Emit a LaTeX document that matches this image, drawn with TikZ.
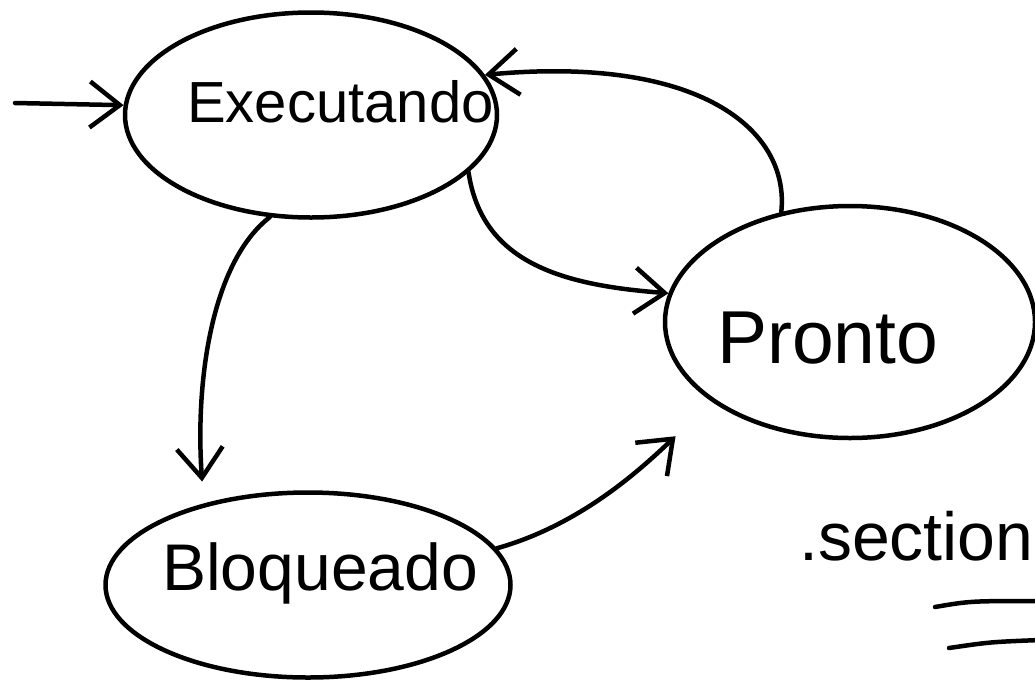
\documentclass[tikz,border=0pt]{standalone}
\usepackage{fontspec}
\setmainfont{Liberation Sans}
\usetikzlibrary{shapes.geometric,arrows.meta}
\begin{document}
\begin{tikzpicture}[x=1pt,y=-1pt,line width=4.5pt,line cap=round,line join=round,
  state/.style={draw,ellipse,inner sep=0pt},
  arr/.style={-{Straight Barb[length=30pt,width=46pt]}},
  lbl/.style={anchor=base west,inner sep=0pt}]
\useasboundingbox (0,0) rectangle (1035,681);
% states
\node[state,minimum width=372pt,minimum height=205pt] (exec) at (311,115) {};
\node[state,minimum width=370pt,minimum height=232pt] (pronto) at (850,322) {};
\node[state,minimum width=405pt,minimum height=185pt] (bloq) at (308,585) {};
% labels
\node[lbl,font=\fontsize{58}{62}\selectfont] (execl) at (185,122) {Executando};
\node[lbl,font=\fontsize{75}{80}\selectfont] (prontol) at (715,363) {Pronto};
\node[lbl,font=\fontsize{66}{70}\selectfont] (bloql) at (160,590) {Bloqueado};
\node[lbl,font=\fontsize{68}{72}\selectfont] (sect) at (797,560) {.section};
% underlines
\draw (935,607) .. controls (970,601) .. (1040,601);
\draw (949,648) .. controls (990,642) .. (1040,640);
% entry
\coordinate (start) at (15,103);
\draw[arr] (start) -- (exec.177);
% transitions
\draw[arr,shorten >=22pt] (exec.248) .. controls (212,262) and (195,380) .. (bloq.142);
\draw[arr] (exec.340) .. controls (482,262) and (560,285) .. (pronto.171);
\draw[arr] (pronto.122) .. controls (790,130) and (700,55) .. (exec.13);
\draw[arr,shorten >=50pt] (bloq.11) .. controls (580,525) and (640,470) .. (pronto.210);
\end{tikzpicture}
\end{document}
